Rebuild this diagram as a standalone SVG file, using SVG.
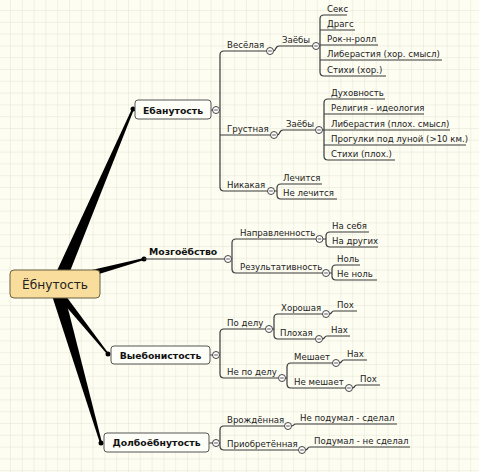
<svg xmlns="http://www.w3.org/2000/svg" width="479" height="472" viewBox="0 0 479 472">
<defs>
<pattern id="grid" width="11.8" height="11.8" patternUnits="userSpaceOnUse" x="10" y="10">
<path d="M11.8 0H0V11.8" fill="none" stroke="#e4e4d4" stroke-width="1"/>
</pattern>
<g id="tog"><circle r="3.5" fill="#fff" stroke="#444" stroke-width="1"/><path d="M-1.8 0H1.8" stroke="#444" stroke-width="0.9"/></g>
<style>
.t{font-family:"DejaVu Sans","Liberation Sans",sans-serif;font-size:8.6px;fill:#222}
.b{font-family:"DejaVu Sans","Liberation Sans",sans-serif;font-size:9.3px;font-weight:bold;fill:#111}
.ln{fill:none;stroke:#3a3a3a;stroke-width:1.2}
.box{fill:#fefef8;stroke:#555;stroke-width:1}
.thick{fill:#000}
</style>
</defs>
<rect width="479" height="472" fill="#fdfdf2"/>
<rect width="479" height="472" fill="url(#grid)"/>

<g id="connectors">
<polygon class="thick" points="64,286.6 133.9,109.4 132.1,108.6 52,281.4"/>
<polygon class="thick" points="56.2,287.3 144.2,259.9 143.8,258.1 53.8,278.7"/>
<polygon class="thick" points="55.1,281.5 108.6,353.5 107.4,354.5 48.9,286.5"/>
<polygon class="thick" points="61.3,282.2 102,442.7 100,443.3 48.8,285.8"/>
<circle cx="133" cy="109" r="2.5"/>
<circle cx="144" cy="259" r="2.5"/>
<circle cx="108" cy="354" r="2.5"/>
<circle cx="101" cy="443" r="2.5"/>
<!-- Ебанутость subtree -->
<path class="ln" d="M211,110H220M220,55V187M266.5,51H224Q220,51 220,55M220,135H270.5M220,187Q220,191 224,191H267.5"/>
<path class="ln" d="M273.5,51C276,51 275,46 279,46H312.5"/>
<path class="ln" d="M319.5,46H320M347,15H324Q320,15 320,19V72Q320,76 324,76H386M320,30H355M320,45H378M320,60H442"/>
<path class="ln" d="M277.5,135C280,135 279,130 283,130H315.5"/>
<path class="ln" d="M322.5,130H324M385,99H328Q324,99 324,103V156Q324,160 328,160H395M324,114H424M324,130H450M324,145H466"/>
<path class="ln" d="M274.5,191H277M322,184H281Q277,184 277,188V195Q277,199 281,199H337"/>
<!-- Мозгоёбство subtree -->
<path class="ln" d="M231.5,259H232M316,239H236Q232,239 232,243V269Q232,273 236,273H322.5"/>
<path class="ln" d="M323,239H326M369,232H330Q326,232 326,236V243Q326,247 330,247H378"/>
<path class="ln" d="M329.5,273H332M360,265H336Q332,265 332,269V276Q332,280 336,280H377"/>
<!-- Выебонистость subtree -->
<path class="ln" d="M210,355H220M265.5,329H224Q220,329 220,333V374Q220,378 224,378H278.5"/>
<path class="ln" d="M272.5,329H274M322.5,314H278Q274,314 274,318V335Q274,339 278,339H315.5"/>
<path class="ln" d="M329.5,314C332,314 331,311 334,311H357"/>
<path class="ln" d="M322.5,339C325,339 324,336 327,336H350"/>
<path class="ln" d="M285.5,378H287M332.5,363H291Q287,363 287,367V384Q287,388 291,388H345.5"/>
<path class="ln" d="M339.5,363C342,363 341,360 344,360H367"/>
<path class="ln" d="M352.5,388C355,388 354,385 357,385H380"/>
<!-- Долбоёбнутость subtree -->
<path class="ln" d="M209,443H220M284.5,426H224Q220,426 220,430V446Q220,450 224,450H298.5"/>
<path class="ln" d="M291.5,426C294,426 293,424 296,424H397"/>
<path class="ln" d="M305.5,450C308,450 307,447 310,447H410"/>
</g>

<g id="root">
<rect x="10" y="270" width="90" height="28" rx="4" fill="#f8dd9c" stroke="#6b6040" stroke-width="1"/>
<text x="55" y="289" text-anchor="middle" font-family="DejaVu Sans, sans-serif" font-size="12.2" fill="#222">Ёбнутость</text>
</g>

<g id="n-ebanutost">
<rect class="box" x="135" y="100" width="76" height="19" rx="3"/>
<text class="b" x="173" y="113.5" text-anchor="middle">Ебанутость</text>
<use href="#tog" x="216" y="110"/>
</g>
<g id="n-veselaya"><text class="t" x="227" y="48">Весёлая</text><use href="#tog" x="270" y="51"/></g>
<g id="n-zaeby1"><text class="t" x="282" y="43">Заёбы</text><use href="#tog" x="316" y="46"/></g>
<g id="n-seks"><text class="t" x="327" y="12">Секс</text></g>
<g id="n-drags"><text class="t" x="327" y="27">Драгс</text></g>
<g id="n-rok"><text class="t" x="327" y="42">Рок-н-ролл</text></g>
<g id="n-liber1"><text class="t" x="327" y="57">Либерастия (хор. смысл)</text></g>
<g id="n-stihi1"><text class="t" x="327" y="73">Стихи (хор.)</text></g>
<g id="n-grustnaya"><text class="t" x="227" y="132">Грустная</text><use href="#tog" x="274" y="135"/></g>
<g id="n-zaeby2"><text class="t" x="286" y="127">Заёбы</text><use href="#tog" x="319" y="130"/></g>
<g id="n-duh"><text class="t" x="331" y="96">Духовность</text></g>
<g id="n-relig"><text class="t" x="331" y="111">Религия - идеология</text></g>
<g id="n-liber2"><text class="t" x="331" y="127">Либерастия (плох. смысл)</text></g>
<g id="n-progulki"><text class="t" x="331" y="142">Прогулки под луной (&gt;10 км.)</text></g>
<g id="n-stihi2"><text class="t" x="331" y="157">Стихи (плох.)</text></g>
<g id="n-nikakaya"><text class="t" x="227" y="188">Никакая</text><use href="#tog" x="271" y="191"/></g>
<g id="n-lechitsya"><text class="t" x="283" y="181">Лечится</text></g>
<g id="n-nelechitsya"><text class="t" x="283" y="196">Не лечится</text></g>

<g id="n-mozgo">
<text class="b" x="149" y="254.5">Мозгоёбство</text>
<path class="ln" d="M144,259H224.5"/>
<use href="#tog" x="228" y="259"/>
</g>
<g id="n-napr"><text class="t" x="240" y="236">Направленность</text><use href="#tog" x="319.5" y="239"/></g>
<g id="n-naseb"><text class="t" x="332" y="229">На себя</text></g>
<g id="n-nadrug"><text class="t" x="332" y="244">На других</text></g>
<g id="n-rezult"><text class="t" x="240" y="270">Результативность</text><use href="#tog" x="326" y="273"/></g>
<g id="n-nol"><text class="t" x="337" y="262">Ноль</text></g>
<g id="n-nenol"><text class="t" x="337" y="277">Не ноль</text></g>

<g id="n-vyebon">
<rect class="box" x="111" y="346" width="99" height="18" rx="3"/>
<text class="b" x="160.5" y="358.8" text-anchor="middle">Выебонистость</text>
<use href="#tog" x="216" y="355"/>
</g>
<g id="n-podelu"><text class="t" x="227" y="326">По делу</text><use href="#tog" x="269" y="329"/></g>
<g id="n-horosh"><text class="t" x="281" y="311">Хорошая</text><use href="#tog" x="326" y="314"/></g>
<g id="n-poh1"><text class="t" x="337" y="308">Пох</text></g>
<g id="n-ploh"><text class="t" x="280" y="336">Плохая</text><use href="#tog" x="319" y="339"/></g>
<g id="n-nah1"><text class="t" x="331" y="333">Нах</text></g>
<g id="n-nepodelu"><text class="t" x="227" y="375">Не по делу</text><use href="#tog" x="282" y="378"/></g>
<g id="n-meshaet"><text class="t" x="294" y="360">Мешает</text><use href="#tog" x="336" y="363"/></g>
<g id="n-nah2"><text class="t" x="347" y="357">Нах</text></g>
<g id="n-nemeshaet"><text class="t" x="294" y="385">Не мешает</text><use href="#tog" x="349" y="388"/></g>
<g id="n-poh2"><text class="t" x="360" y="382">Пох</text></g>

<g id="n-dolbo">
<rect class="box" x="104" y="433" width="105" height="19" rx="3"/>
<text class="b" x="156.5" y="446.3" text-anchor="middle">Долбоёбнутость</text>
<use href="#tog" x="216" y="443"/>
</g>
<g id="n-vrozh"><text class="t" x="227" y="423">Врождённая</text><use href="#tog" x="288" y="426"/></g>
<g id="n-nepodumal"><text class="t" x="300" y="421">Не подумал - сделал</text></g>
<g id="n-priobr"><text class="t" x="227" y="447">Приобретённая</text><use href="#tog" x="302" y="450"/></g>
<g id="n-podumal"><text class="t" x="314" y="444">Подумал - не сделал</text></g>
</svg>
